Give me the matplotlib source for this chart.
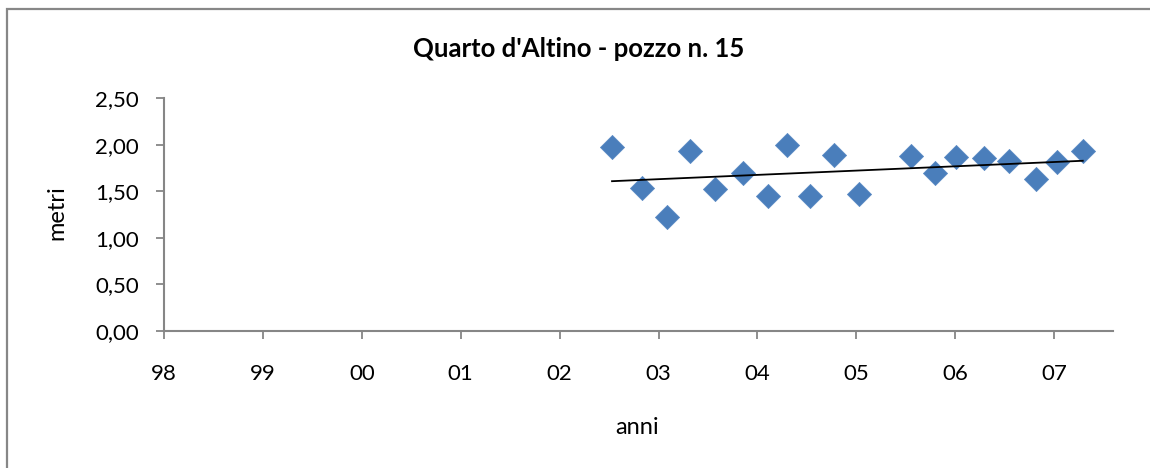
import numpy as np
import matplotlib
matplotlib.use("Agg")
import matplotlib.pyplot as plt
from matplotlib.patches import Rectangle

# ---- data ----
anni = [2002.53, 2002.83, 2003.09, 2003.32, 2003.57, 2003.85, 2004.11, 2004.30,
        2004.53, 2004.77, 2005.03, 2005.55, 2005.80, 2006.01, 2006.29, 2006.54,
        2006.82, 2007.03, 2007.29]
metri = [1.97, 1.53, 1.22, 1.93, 1.52, 1.70, 1.45, 2.00,
         1.45, 1.89, 1.47, 1.88, 1.69, 1.87, 1.86, 1.82,
         1.63, 1.81, 1.93]
x_ticks = [1998, 1999, 2000, 2001, 2002, 2003, 2004, 2005, 2006, 2007]
x_ticklabels = ["98", "99", "00", "01", "02", "03", "04", "05", "06", "07"]
y_ticks = [0.0, 0.5, 1.0, 1.5, 2.0, 2.5]
y_ticklabels = ["0,00", "0,50", "1,00", "1,50", "2,00", "2,50"]
title = "Quarto d'Altino - pozzo n. 15"

plt.rcParams['font.family'] = ['Lato', 'DejaVu Sans']

W, H = 1150, 468
fig = plt.figure(figsize=(W / 100, H / 100), dpi=100)

# outer chart border (partly cropped at right/bottom)
fig.patches.append(Rectangle((7 / W, -0.05), 1.2, 1 - 9 / H + 0.05,
                             transform=fig.transFigure, fill=False,
                             edgecolor='#878787', linewidth=1.6))

ax = fig.add_axes([164 / W, 1 - 331 / H, (1113 - 164) / W, (331 - 98) / H])

spine_col = '#868686'
ax.scatter(anni, metri, marker='D', s=150, color='#4a7ebb',
           edgecolors='#5a8ac4', linewidths=0.6, zorder=3)

coef = np.polyfit(anni, metri, 1)
xs = np.array([min(anni), max(anni)])
ax.plot(xs, np.polyval(coef, xs), color='black', linewidth=1.3, zorder=4)

ax.set_xlim(1998, 1998 + (1113 - 164) / 98.9)
ax.set_ylim(0, 2.5)
ax.set_xticks(x_ticks)
ax.set_xticklabels(x_ticklabels)
ax.set_yticks(y_ticks)
ax.set_yticklabels(y_ticklabels)

for s in ['top', 'right']:
    ax.spines[s].set_visible(False)
for s in ['left', 'bottom']:
    ax.spines[s].set_color(spine_col)
    ax.spines[s].set_linewidth(1.5)
ax.tick_params(axis='both', direction='out', length=6, width=1.3,
               color=spine_col, labelsize=16, labelcolor='black')
ax.tick_params(axis='x', pad=18)
ax.tick_params(axis='y', pad=12)

fig.text(637 / W, 1 - 427 / H, 'anni', ha='center', va='center', fontsize=17)
fig.text(57 / W, 1 - 213 / H, 'metri', ha='center', va='center', fontsize=17,
         rotation=90)
fig.text(579 / W, 1 - 49 / H, title, ha='center', va='center',
         fontsize=18.5, fontweight='bold')

fig.savefig('out.png', dpi=100)
